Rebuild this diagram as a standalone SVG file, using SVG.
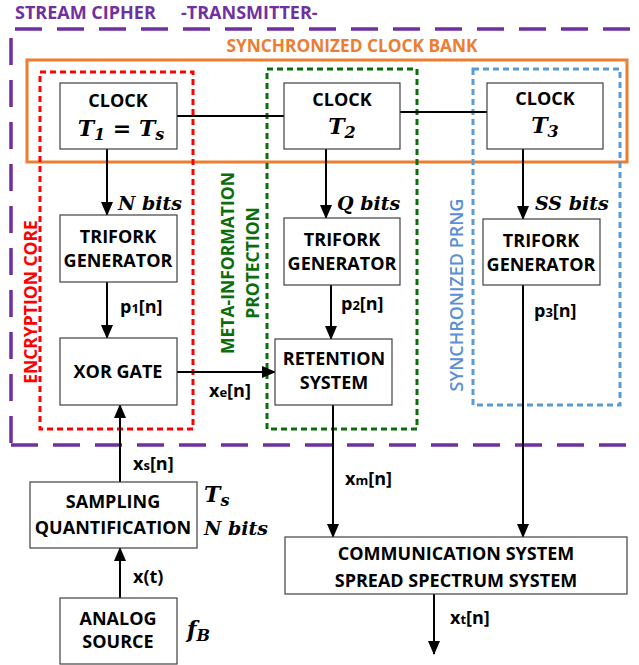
<svg xmlns="http://www.w3.org/2000/svg" width="639" height="665" viewBox="0 0 639 665">
<defs>
<marker id="ah" markerWidth="14" markerHeight="12" refX="13" refY="6" orient="auto" markerUnits="userSpaceOnUse">
<path d="M0,0 L14,6 L0,12 Z" fill="#000"/>
</marker>
<style>
.box{fill:#fff;stroke:#404040;stroke-width:1.2}
.t{font-family:"Open Sans",Lato,"Liberation Sans",sans-serif;font-weight:bold;font-size:18px;fill:#000;text-anchor:middle}
.lbl{font-family:"Open Sans",Lato,"Liberation Sans",sans-serif;font-weight:bold;font-size:18px;fill:#000}
.sub{font-size:13px}
.m{font-family:"DejaVu Serif","Liberation Serif",serif;font-weight:bold;font-style:italic;font-size:19px;fill:#000}
.ms{font-size:16px}
.ln{stroke:#000;stroke-width:2;fill:none}
.arr{stroke:#000;stroke-width:2;fill:none;marker-end:url(#ah)}
.purple{stroke:#7030A0;stroke-width:3.5;stroke-dasharray:27 15;fill:none}
.vt{font-family:"Open Sans",Lato,sans-serif;font-weight:bold;font-size:17.5px;text-anchor:middle}
</style>
</defs>

<g id="frames">
<line class="purple" x1="15" y1="29" x2="639" y2="29"/>
<line class="purple" x1="11" y1="38" x2="11" y2="445"/>
<line class="purple" x1="11" y1="445" x2="630" y2="445"/>
<text x="15" y="19" style="font-family:'Open Sans',Lato,sans-serif;font-weight:bold;font-size:18px;fill:#7030A0">STREAM CIPHER</text>
<text x="181" y="19" style="font-family:'Open Sans',Lato,sans-serif;font-weight:bold;font-size:18px;fill:#7030A0">-TRANSMITTER-</text>
<rect x="27" y="60" width="600" height="102" fill="none" stroke="#ED7D31" stroke-width="3"/>
<text x="352" y="52" style="font-family:'Open Sans',Lato,sans-serif;font-weight:bold;font-size:17.3px;fill:#ED7D31;text-anchor:middle">SYNCHRONIZED CLOCK BANK</text>
<rect x="40" y="72" width="153" height="357" fill="none" stroke="#FF0000" stroke-width="3" stroke-dasharray="6 4"/>
<rect x="267" y="69" width="150" height="360" fill="none" stroke="#0B6E0B" stroke-width="3" stroke-dasharray="6 4"/>
<rect x="473" y="69" width="147" height="336" fill="none" stroke="#5B9BD5" stroke-width="3" stroke-dasharray="6 4"/>
<text class="vt" transform="translate(31 302) rotate(-90)" fill="#FF0000" dy="6">ENCRYPTION CORE</text>
<text class="vt" transform="translate(228 263) rotate(-90)" fill="#0B6E0B" dy="6">META-INFORMATION</text>
<text class="vt" transform="translate(253 263) rotate(-90)" fill="#0B6E0B" dy="6">PROTECTION</text>
<text transform="translate(457 295) rotate(-90)" style="font-family:'Open Sans',Lato,sans-serif;font-weight:600;font-size:18px;fill:#5B8FD5;text-anchor:middle" dy="6">SYNCHRONIZED PRNG</text>
</g>

<g id="connectors">
<line class="ln" x1="177" y1="116" x2="284" y2="116"/>
<line class="ln" x1="400" y1="112" x2="487" y2="112"/>
<line class="arr" x1="107" y1="149" x2="107" y2="215"/>
<line class="arr" x1="326" y1="149" x2="326" y2="218"/>
<line class="arr" x1="523" y1="149" x2="523" y2="219"/>
<line class="arr" x1="107" y1="282" x2="107" y2="338"/>
<line class="arr" x1="331" y1="285" x2="331" y2="339"/>
<line class="arr" x1="177" y1="372" x2="275" y2="372"/>
<line class="arr" x1="120" y1="482" x2="120" y2="405"/>
<line class="arr" x1="120" y1="598" x2="120" y2="548"/>
<line class="arr" x1="333" y1="405" x2="333" y2="537"/>
<line class="arr" x1="523" y1="285" x2="523" y2="537"/>
<line class="arr" x1="434" y1="594" x2="434" y2="654"/>
<text class="m" x="118" y="210">N bits</text>
<text class="m" x="337" y="210">Q bits</text>
<text class="m" x="535" y="210">SS bits</text>
<text class="lbl" x="120" y="313">p<tspan class="sub">1</tspan>[n]</text>
<text class="lbl" x="341" y="310">p<tspan class="sub">2</tspan>[n]</text>
<text class="lbl" x="534" y="317">p<tspan class="sub">3</tspan>[n]</text>
<text class="lbl" x="209" y="397">x<tspan class="sub">e</tspan>[n]</text>
<text class="lbl" x="133" y="470">x<tspan class="sub">s</tspan>[n]</text>
<text class="lbl" x="133" y="583">x(t)</text>
<text class="lbl" x="345" y="485">x<tspan class="sub">m</tspan>[n]</text>
<text class="lbl" x="450" y="624">x<tspan class="sub">t</tspan>[n]</text>
</g>

<g id="clock1">
<rect class="box" x="60" y="83" width="117" height="66"/>
<text class="t" x="118" y="107">CLOCK</text>
<text class="m" x="121" y="136" style="font-size:22px;text-anchor:middle">T<tspan class="ms" dy="4">1</tspan><tspan dy="-4"> = T</tspan><tspan class="ms" dy="4">s</tspan></text>
</g>
<g id="clock2">
<rect class="box" x="284" y="83" width="116" height="66"/>
<text class="t" x="342" y="106">CLOCK</text>
<text class="m" x="342" y="134" style="font-size:22px;text-anchor:middle">T<tspan class="ms" dy="4">2</tspan></text>
</g>
<g id="clock3">
<rect class="box" x="487" y="83" width="116" height="66"/>
<text class="t" x="545" y="105">CLOCK</text>
<text class="m" x="545" y="133" style="font-size:22px;text-anchor:middle">T<tspan class="ms" dy="4">3</tspan></text>
</g>
<g id="trifork1">
<rect class="box" x="60" y="215" width="117" height="67"/>
<text class="t" x="118" y="243">TRIFORK</text>
<text class="t" x="118" y="267">GENERATOR</text>
</g>
<g id="trifork2">
<rect class="box" x="284" y="218" width="116" height="67"/>
<text class="t" x="342" y="246">TRIFORK</text>
<text class="t" x="342" y="270">GENERATOR</text>
</g>
<g id="trifork3">
<rect class="box" x="483" y="219" width="117" height="66"/>
<text class="t" x="541" y="247">TRIFORK</text>
<text class="t" x="541" y="271">GENERATOR</text>
</g>
<g id="xor">
<rect class="box" x="60" y="338" width="117" height="67"/>
<text class="t" x="118" y="378">XOR GATE</text>
</g>
<g id="retention">
<rect class="box" x="275" y="339" width="117" height="66"/>
<text class="t" x="334" y="365">RETENTION</text>
<text class="t" x="334" y="389">SYSTEM</text>
</g>
<g id="sampling">
<rect class="box" x="30" y="482" width="167" height="66"/>
<text class="t" x="113" y="508">SAMPLING</text>
<text class="t" x="113" y="534">QUANTIFICATION</text>
<text class="m" x="204" y="502" style="font-size:22px">T<tspan class="ms" dy="4">s</tspan></text>
<text class="m" x="204" y="535">N bits</text>
</g>
<g id="analog">
<rect class="box" x="60" y="598" width="117" height="66"/>
<text class="t" x="118" y="625">ANALOG</text>
<text class="t" x="118" y="648">SOURCE</text>
<text class="m" x="187" y="637" style="font-size:22px">f<tspan class="ms" dy="4">B</tspan></text>
</g>
<g id="comm">
<rect class="box" x="285" y="537" width="342" height="57"/>
<text class="t" x="456" y="560">COMMUNICATION SYSTEM</text>
<text class="t" x="456" y="587">SPREAD SPECTRUM SYSTEM</text>
</g>
</svg>
